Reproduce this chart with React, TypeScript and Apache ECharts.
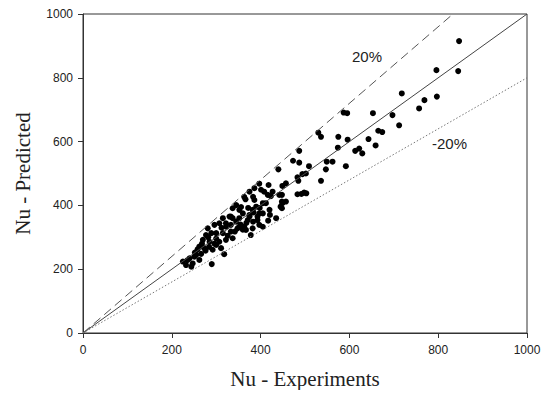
import React, { useEffect, useRef } from "react";
import * as echarts from "echarts";

const xTicks = [0, 200, 400, 600, 800, 1000];
const yTicks = [0, 200, 400, 600, 800, 1000];

const nuExperiments = [
  847, 796, 845, 718, 769, 797, 757, 697, 712, 665, 674, 653, 587, 595, 530, 536, 575, 596, 643, 659,
  574, 613, 622, 629, 487, 487, 473, 509, 549, 562, 547, 592, 494, 502, 536, 483, 485, 498, 503, 492,
  483, 457, 440, 448, 448, 457, 448,
  397, 418, 449, 386, 427, 423, 375, 383, 363, 405, 390, 449, 420, 345, 337, 352, 360, 375, 371, 383,
  393, 405, 435, 330, 337, 345, 352, 363, 405, 401, 408, 416, 442, 445, 366, 386, 412, 421, 397, 393,
  382, 417, 397, 382, 367, 322, 333,
  315, 333, 352, 375, 281, 296, 307, 322, 348, 277, 289, 300, 315, 333, 360, 378, 270, 285, 307, 322,
  337, 262, 273, 292, 311, 318, 290, 225, 232, 244, 240, 251, 262, 247,
  252, 258, 266, 276, 284, 296, 300, 326, 342, 355, 368, 384, 398, 372, 356, 312, 268, 282, 300, 235, 255,
];

const nuPredicted = [
  915, 824, 821, 751, 730, 741, 704, 683, 651, 634, 630, 689, 691, 689, 628, 615, 615, 606, 608, 588,
  581, 571, 578, 563, 571, 534, 540, 523, 537, 537, 513, 523, 498, 500, 477, 488, 477, 440, 438, 436,
  435, 469, 513, 433, 412, 412, 391,
  468, 464, 461, 454, 443, 429, 443, 427, 427, 407, 396, 407, 386, 401, 391, 386, 375, 370, 354, 349,
  354, 375, 360, 365, 360, 349, 333, 333, 333, 449, 443, 433, 433, 396, 419, 417, 407, 370, 375, 365,
  386, 352, 339, 328, 323, 344, 339,
  360, 365, 360, 365, 328, 339, 344, 333, 328, 307, 313, 313, 313, 318, 324, 307, 292, 286, 286, 292,
  297, 271, 266, 261, 266, 247, 216, 224, 213, 208, 234, 239, 229, 218,
  252, 262, 248, 258, 270, 280, 296, 305, 318, 340, 345, 378, 392, 392, 395, 330, 280, 300, 276, 228, 245,
];

const perfectLine = [[0, 0], [1000, 1000]];
const plus20Line = [[0, 0], [1000 / 1.2, 1000]];
const minus20Line = [[0, 0], [1000, 800]];

export default function App() {
  const ref = useRef<HTMLDivElement>(null);
  useEffect(() => {
    if (!ref.current) return;
    const chart = echarts.init(ref.current, null, { renderer: "svg" });
    const points = nuExperiments.map((x, i) => [x, nuPredicted[i]]);
    const axisCommon = {
      type: "value" as const,
      min: xTicks[0],
      max: xTicks[xTicks.length - 1],
      interval: 200,
      splitLine: { show: false },
      axisLine: { show: true, onZero: false, lineStyle: { color: "#333", width: 1 } },
      axisTick: { show: true, inside: false, length: 5, lineStyle: { color: "#333" } },
      axisLabel: {
        fontFamily: "Liberation Sans, Arial",
        fontSize: 12,
        color: "#222",
        formatter: (v: number) => String(v),
      },
      nameLocation: "middle" as const,
      nameTextStyle: { fontFamily: "Liberation Serif, Times New Roman", fontSize: 21, color: "#222" },
    };
    chart.setOption({
      animation: false,
      backgroundColor: "#fff",
      grid: {
        left: 83,
        right: 22,
        top: 14,
        bottom: 65,
        show: true,
        borderColor: "#333",
        borderWidth: 1,
        backgroundColor: "transparent",
      },
      xAxis: {
        ...axisCommon,
        name: "Nu - Experiments",
        nameGap: 35,
        axisLabel: { ...axisCommon.axisLabel, margin: 11 },
      },
      yAxis: {
        ...axisCommon,
        min: yTicks[0],
        max: yTicks[yTicks.length - 1],
        name: "Nu - Predicted",
        nameGap: 50,
        axisLabel: { ...axisCommon.axisLabel, margin: 10 },
      },
      series: [
        {
          type: "line",
          data: perfectLine,
          symbol: "none",
          lineStyle: { color: "#444", width: 1 },
          silent: true,
        },
        {
          type: "line",
          data: plus20Line,
          symbol: "none",
          lineStyle: { color: "#555", width: 1, type: [9, 5] },
          silent: true,
        },
        {
          type: "line",
          data: minus20Line,
          symbol: "none",
          lineStyle: { color: "#777", width: 1, type: [1.5, 2] },
          silent: true,
        },
        {
          type: "scatter",
          data: points,
          symbol: "circle",
          symbolSize: 6,
          itemStyle: { color: "#000", opacity: 1 },
        },
      ],
      graphic: [
        {
          type: "text",
          left: 352,
          top: 49,
          style: { text: "20%", fontFamily: "Liberation Sans, Arial", fontSize: 15, fill: "#222" },
        },
        {
          type: "text",
          left: 432,
          top: 136,
          style: { text: "-20%", fontFamily: "Liberation Sans, Arial", fontSize: 15, fill: "#222" },
        },
      ],
    });
    return () => chart.dispose();
  }, []);
  return <div ref={ref} style={{ width: 549, height: 398, margin: -8 }} />;
}
